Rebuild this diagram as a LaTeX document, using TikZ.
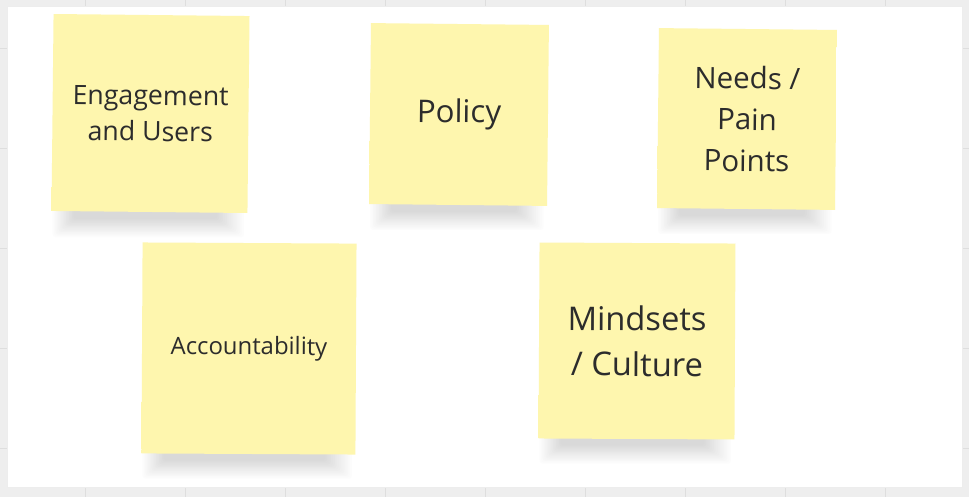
\documentclass[tikz,border=0pt]{standalone}
\usepackage{fontspec}
\setmainfont{Open Sans}
\usetikzlibrary{backgrounds}
\definecolor{notefill}{HTML}{FEF6AE}
\definecolor{notetop}{HTML}{F3EAA2}
\definecolor{notetext}{HTML}{2C2C2C}
\definecolor{boardgrey}{HTML}{EEEEEE}
\definecolor{gridgrey}{HTML}{DEDEDE}
\pgfdeclareverticalshading{notepaper}{100bp}{color(0bp)=(notefill); color(84bp)=(notefill); color(93bp)=(notetop); color(100bp)=(notetop)}

\begin{document}
\begin{tikzpicture}[x=0.02cm, y=-0.02cm,
	note/.style={rectangle, inner sep=0pt, shading=notepaper, text=notetext, align=center},
	shadowlayer/.style={fill=black!#1, rounded corners=0.06cm}]
	\useasboundingbox (0,0) rectangle (969,497);

	\node[note, rotate=-0.6, minimum width=3.92cm, minimum height=3.94cm, font=\fontsize{15.2}{20.5}\selectfont] (engage) at (150.5,113.5) {Engagement\\and Users};
	\node[note, rotate=-0.6, minimum width=3.56cm, minimum height=3.62cm, font=\fontsize{17.8}{24}\selectfont] (policy) at (459,114.5) {Policy};
	\node[note, rotate=-0.6, minimum width=3.56cm, minimum height=3.6cm, font=\fontsize{16.8}{23.5}\selectfont] (needs) at (747,119) {Needs /\\Pain\\Points};
	\node[note, rotate=-0.3, minimum width=4.28cm, minimum height=4.22cm, font=\fontsize{13.6}{18}\selectfont] (account) at (249,348.5) {Accountability};
	\node[note, rotate=-0.3, minimum width=3.92cm, minimum height=3.92cm, font=\fontsize{18.6}{26}\selectfont] (mindset) at (637,341) {Mindsets\\/ Culture};

	\begin{scope}[on background layer]
		\fill[boardgrey] (0,0) rectangle (969,497);
		\foreach \gx in {85,185,...,885}
			\draw[gridgrey] (\gx,0) -- (\gx,497);
		\foreach \gy in {48,148,...,448}
			\draw[gridgrey] (0,\gy) -- (969,\gy);
		\fill[white, draw=black!7] (7,6) rectangle (962,487);

		\foreach \n in {engage,policy,needs,account,mindset}
			\foreach \k [evaluate=\k as \g using 2+3.6*\k] in {0,...,15}
				\fill[shadowlayer=\g] ([shift={(1.5*\k,-6)}]\n.south west) rectangle ([shift={(-2-1.9*\k,25-1.3*\k)}]\n.south east);
	\end{scope}
\end{tikzpicture}
\end{document}
